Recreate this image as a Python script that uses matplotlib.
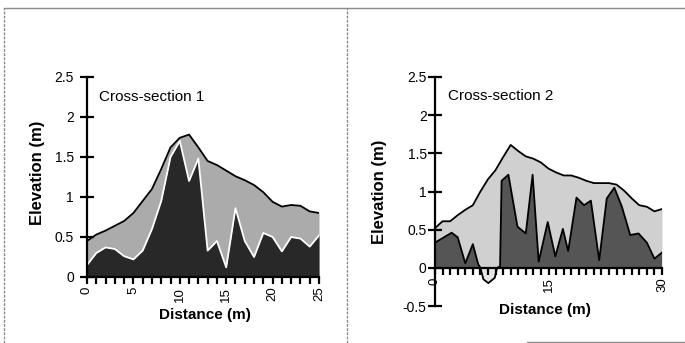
import matplotlib
matplotlib.use("Agg")
import matplotlib.pyplot as plt
from matplotlib.lines import Line2D
from matplotlib.ticker import MultipleLocator, FixedLocator

plt.rcParams['font.family'] = ['Liberation Sans', 'DejaVu Sans']

# cross-section 1: ground surface and the lower (dark) layer, sampled every metre
dist1 = list(range(26))
top1 = [0.45, 0.53, 0.58, 0.64, 0.70, 0.80, 0.95, 1.10, 1.35, 1.62, 1.74, 1.78, 1.62,
        1.45, 1.40, 1.33, 1.26, 1.21, 1.15, 1.06, 0.94, 0.88, 0.90, 0.89, 0.82, 0.80]
low1 = [0.15, 0.30, 0.37, 0.35, 0.26, 0.22, 0.33, 0.60, 0.95, 1.50, 1.70, 1.20, 1.48,
        0.33, 0.45, 0.12, 0.86, 0.45, 0.25, 0.55, 0.50, 0.32, 0.50, 0.48, 0.38, 0.52]

# cross-section 2
dist2 = list(range(31))
top2 = [0.52, 0.61, 0.61, 0.69, 0.76, 0.82, 1.00, 1.16, 1.28, 1.45, 1.61, 1.53, 1.46,
        1.43, 1.38, 1.30, 1.25, 1.21, 1.21, 1.18, 1.14, 1.11, 1.11, 1.11, 1.09, 1.01,
        0.91, 0.82, 0.80, 0.74, 0.77]
low2_dist = [0, 2.2, 3.0, 4.0, 5.0, 5.7, 6.0, 6.4, 7.05, 7.9, 8.2, 8.6, 8.8, 9.7, 10.9,
             12.0, 12.9, 13.7, 14.9, 15.9, 16.9, 17.6, 18.7, 19.7, 20.6, 21.7, 22.7,
             23.7, 24.7, 25.8, 26.9, 28.0, 29.0, 30.0]
low2 = [0.33, 0.46, 0.40, 0.06, 0.31, 0.05, 0.0, -0.15, -0.20, -0.13, 0.0, 0.02, 1.14,
        1.22, 0.54, 0.45, 1.22, 0.08, 0.60, 0.15, 0.51, 0.22, 0.92, 0.82, 0.88, 0.10,
        0.91, 1.05, 0.80, 0.43, 0.45, 0.33, 0.12, 0.20]

ytick1 = [0, 0.5, 1, 1.5, 2, 2.5]
ylab1 = ['0', '0.5', '1', '1.5', '2', '2.5']
ytick2 = [-0.5, 0, 0.5, 1, 1.5, 2, 2.5]
ylab2 = ['-0.5', '0', '0.5', '1', '1.5', '2', '2.5']
xtick1 = [0, 5, 10, 15, 20, 25]
xtick2 = [0, 15, 30]

fig = plt.figure(figsize=(6.85, 3.43), dpi=100)

ax1 = fig.add_axes([87 / 685, 1 - 277 / 343, 232 / 685, 200 / 343])
ax2 = fig.add_axes([435 / 685, 1 - 306 / 343, 227 / 685, 229 / 343])

# panel 1
ax1.fill_between(dist1, 0, top1, color='#ababab', lw=0)
ax1.fill_between(dist1, 0, low1, color='#282828', lw=0)
ax1.plot(dist1, low1, color='white', lw=1.3)
ax1.plot(dist1, top1, color='black', lw=1.3)
ax1.set_xlim(0, 25)
ax1.set_ylim(0, 2.5)
ax1.text(1.3, 2.25, 'Cross-section 1', fontsize=11, va='center')

# panel 2
ax2.fill_between(dist2, 0, top2, color='#d0d0d0', lw=0)
ax2.fill_between(low2_dist, 0, low2, where=[v >= 0 for v in low2],
                 interpolate=True, color='#555555', lw=0)
ax2.fill_between(low2_dist, 0, low2, where=[v < 0 for v in low2],
                 interpolate=True, color='#e6e6e6', lw=0)
ax2.plot(low2_dist, low2, color='black', lw=1.3)
ax2.plot(dist2, top2, color='black', lw=1.3)
ax2.set_xlim(0, 30)
ax2.set_ylim(-0.5, 2.5)
ax2.text(1.7, 2.25, 'Cross-section 2', fontsize=11, va='center')

for ax, yt, yl, xt, ypad in [(ax1, ytick1, ylab1, xtick1, 4.5), (ax2, ytick2, ylab2, xtick2, 1)]:
    ax.spines['top'].set_visible(False)
    ax.spines['right'].set_visible(False)
    ax.spines['left'].set_linewidth(1.6)
    ax.spines['bottom'].set_linewidth(1.6)
    ax.spines['bottom'].set_position(('data', 0))
    ax.spines['bottom'].set_zorder(3)
    ax.set_yticks(yt)
    ax.set_yticklabels(yl)
    ax.xaxis.set_major_locator(FixedLocator(xt))
    ax.xaxis.set_minor_locator(MultipleLocator(1))
    ax.set_xticklabels([str(v) for v in xt], rotation=90)
    ax.tick_params(axis='y', direction='inout', length=10, width=1.6, labelsize=10, pad=ypad)
    ax.tick_params(axis='x', which='both', direction='out', length=5, width=1.6,
                   labelsize=9.5, pad=2)
    ax.set_ylabel('Elevation (m)', fontsize=12, fontweight='bold')
    ax.set_xlabel('Distance (m)', fontsize=11, fontweight='bold')

ax1.yaxis.set_label_coords(-0.18, 0.52)
ax1.xaxis.set_label_coords(0.51, -0.155)
ax2.yaxis.set_label_coords(-0.21, 0.5)
ax2.xaxis.set_label_coords(0.485, 0.013)

# page frame around the two panels
fcol = '#8a8a8a'
fig.add_artist(Line2D([4 / 685, 1], [1 - 8 / 343, 1 - 8 / 343], color=fcol, lw=1))
fig.add_artist(Line2D([4 / 685, 4 / 685], [0, 1 - 8 / 343], color=fcol, lw=1, ls=(0, (2, 1))))
fig.add_artist(Line2D([347 / 685, 347 / 685], [0, 1 - 8 / 343], color=fcol, lw=1, ls=(0, (2, 1))))
fig.add_artist(Line2D([527 / 685, 1], [1.5 / 343, 1.5 / 343], color=fcol, lw=1))

fig.savefig('out.png', dpi=100)
